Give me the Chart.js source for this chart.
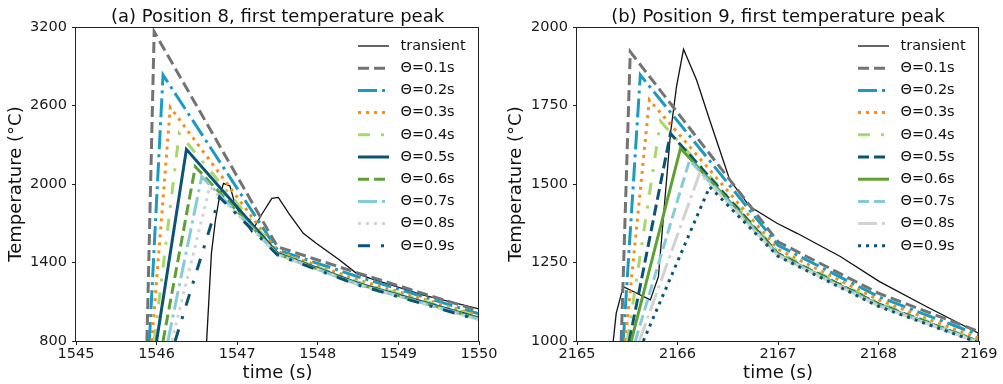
<!DOCTYPE html>
<html>
<head>
<meta charset="utf-8">
<script src="https://cdn.jsdelivr.net/npm/chart.js@4.4.0/dist/chart.umd.min.js"></script>
<style>
  body { margin: 0; background: #fff; }
  canvas { position: absolute; top: 0; }
  #chartA { left: 0; }
  #chartB { left: 500px; }
</style>
</head>
<body>
<canvas id="chartA" width="500" height="384"></canvas>
<canvas id="chartB" width="503" height="384"></canvas>
<script>
// ---- data ----
const thetaLabels = ['Θ=0.1s', 'Θ=0.2s', 'Θ=0.3s', 'Θ=0.4s', 'Θ=0.5s', 'Θ=0.6s', 'Θ=0.7s', 'Θ=0.8s', 'Θ=0.9s'];

// (a) Position 8
const posA_xTicks = [1545, 1546, 1547, 1548, 1549, 1550];
const posA_yTicks = [800, 1400, 2000, 2600, 3200];
const posA_transTime = [1546.62, 1546.68, 1546.73, 1546.78, 1546.83, 1546.91, 1546.98, 1547.14, 1547.18, 1547.30, 1547.43, 1547.51, 1547.64, 1547.82, 1547.98, 1548.27, 1548.48, 1548.65, 1549.31, 1550.0];
const posA_transTemp = [790, 1470, 1725, 1900, 2005, 1985, 1830, 1673, 1635, 1763, 1890, 1898, 1776, 1623, 1547, 1419, 1317, 1279, 1151, 1045];
const posA_startTime = [1545.88, 1545.91, 1545.94, 1545.97, 1546.00, 1546.08, 1546.14, 1546.19, 1546.23];
const posA_startTemp = [800, 800, 800, 800, 800, 800, 800, 800, 800];
const posA_peakTime = [1545.97, 1546.08, 1546.17, 1546.28, 1546.37, 1546.48, 1546.56, 1546.66, 1546.78];
const posA_peakTemp = [3164, 2833, 2586, 2387, 2265, 2132, 2056, 1979, 1900];
const posA_knotTime = 1547.5;
const posA_knotTemp = [1520, 1495, 1485, 1478, 1470, 1465, 1462, 1460, 1458];
const posA_midTime = 1548.5;
const posA_midTemp = [1319, 1291, 1266, 1250, 1240, 1235, 1232, 1230, 1228];
const posA_endTime = 1550;
const posA_endTemp = [1030, 1008, 995, 985, 975, 970, 965, 962, 960];

// (b) Position 9
const posB_xTicks = [2165, 2166, 2167, 2168, 2169];
const posB_yTicks = [1000, 1250, 1500, 1750, 2000];
const posB_transTime = [2165.36, 2165.39, 2165.46, 2165.73, 2165.81, 2165.93, 2165.99, 2166.06, 2166.19, 2166.32, 2166.52, 2166.72, 2166.99, 2167.19, 2167.62, 2168.01, 2168.48, 2169.0];
const posB_transTemp = [998, 1088, 1173, 1131, 1205, 1661, 1810, 1929, 1831, 1704, 1513, 1428, 1375, 1343, 1269, 1189, 1109, 1024];
const posB_startTime = [2165.44, 2165.46, 2165.48, 2165.50, 2165.52, 2165.54, 2165.58, 2165.62, 2165.66];
const posB_startTemp = [1000, 1000, 1000, 1000, 1000, 1000, 1000, 1000, 1000];
const posB_peakTime = [2165.53, 2165.63, 2165.72, 2165.83, 2165.93, 2166.03, 2166.12, 2166.22, 2166.32];
const posB_peakTemp = [1921, 1847, 1768, 1700, 1661, 1614, 1576, 1534, 1491];
const posB_knotTime = 2167;
const posB_knotTemp = [1316, 1305, 1292, 1283, 1278, 1276, 1274, 1272, 1270];
const posB_midTime = 2168;
const posB_midTemp = [1152, 1141, 1131, 1122, 1118, 1116, 1114, 1112, 1110];
const posB_endTime = 2169;
const posB_endTemp = [1030, 1019, 1008, 1000, 998, 997, 996, 995, 994];

// ---- styles ----
const GRAY = '#737373', BLUE = '#1a9bc6', ORANGE = '#f39019', LGREEN = '#a6d96a',
      TEAL = '#0b5475', GREEN = '#5ca132', LBLUE = '#86cbdc', LGRAY = '#d2d2d2';
const DASH = [11, 5], DASHDOT = [19, 5, 3, 5], DOT = [3, 5], LOOSE = [12, 11, 3, 11];

const stylesA = [
  [GRAY, DASH], [BLUE, DASHDOT], [ORANGE, DOT], [LGREEN, LOOSE], [TEAL, []],
  [GREEN, DASH], [LBLUE, DASHDOT], [LGRAY, DOT], [TEAL, LOOSE]
];
const stylesB = [
  [GRAY, DASH], [BLUE, DASHDOT], [ORANGE, DOT], [LGREEN, LOOSE], [TEAL, DASH],
  [GREEN, []], [LBLUE, DASH], [LGRAY, DASHDOT], [TEAL, DOT]
];

Chart.defaults.font.family = '"DejaVu Sans", sans-serif';
Chart.defaults.color = '#1a1a1a';

function buildDatasets(p, styles) {
  const sets = [{
    label: 'transient',
    data: p.transTime.map((t, i) => ({x: t, y: p.transTemp[i]})),
    borderColor: '#111',
    borderWidth: 1.3,
    borderDash: [],
    order: 20
  }];
  thetaLabels.forEach((lab, i) => {
    sets.push({
      label: lab,
      data: [
        {x: p.startTime[i], y: p.startTemp[i]},
        {x: p.peakTime[i], y: p.peakTemp[i]},
        {x: p.knotTime, y: p.knotTemp[i]},
        {x: p.midTime, y: p.midTemp[i]},
        {x: p.endTime, y: p.endTemp[i]}
      ],
      borderColor: styles[i][0],
      borderDash: styles[i][1],
      borderWidth: 3,
      order: 10 - i
    });
  });
  sets.forEach(s => {
    s.pointRadius = 0;
    s.tension = 0;
    s.fill = false;
    s.borderCapStyle = 'butt';
  });
  return sets;
}

// legend drawn inside the plot, top right, no frame
const insideLegend = {
  id: 'insideLegend',
  afterDraw(chart) {
    const {ctx, chartArea} = chart;
    const x0 = chartArea.right - 121;
    ctx.save();
    chart.data.datasets.forEach((ds, i) => {
      const y = chartArea.top + 19 + i * 22.2;
      ctx.beginPath();
      ctx.setLineDash(ds.borderDash || []);
      ctx.lineWidth = ds.borderWidth;
      ctx.strokeStyle = ds.borderColor;
      ctx.lineCap = 'butt';
      ctx.moveTo(x0, y);
      ctx.lineTo(x0 + 31, y);
      ctx.stroke();
      ctx.setLineDash([]);
      ctx.fillStyle = '#111';
      ctx.font = '14.5px "DejaVu Sans"';
      ctx.textBaseline = 'middle';
      ctx.textAlign = 'left';
      ctx.fillText(ds.label, x0 + 42.5, y);
    });
    ctx.restore();
  }
};

// box around the plot area
const frame = {
  id: 'frame',
  afterDatasetsDraw(chart) {
    const {ctx, chartArea: a} = chart;
    ctx.save();
    ctx.strokeStyle = '#222';
    ctx.lineWidth = 1;
    ctx.strokeRect(Math.round(a.left) - 0.5, Math.round(a.top) + 0.5, Math.round(a.right - a.left), Math.round(a.bottom - a.top));
    ctx.restore();
  }
};

function makeChart(id, title, p, styles, xMin, xMax, yMin, yMax, padRight, yWidth) {
  const ctx = document.getElementById(id).getContext('2d');
  return new Chart(ctx, {
    type: 'line',
    data: {datasets: buildDatasets(p, styles)},
    options: {
      responsive: false,
      animation: false,
      layout: {padding: {left: 0, right: padRight, top: 0, bottom: 0}},
      plugins: {
        legend: {display: false},
        tooltip: {enabled: false},
        title: {
          display: true,
          text: title,
          fullSize: false,
          color: '#111',
          font: {size: 18, weight: 'normal', lineHeight: 1.1},
          padding: {top: 7, bottom: 0.2}
        }
      },
      scales: {
        x: {
          type: 'linear',
          min: xMin,
          max: xMax,
          afterBuildTicks: s => { s.ticks = p.xTicks.map(v => ({value: v})); },
          afterFit: s => { s.height = 43; },
          ticks: {font: {size: 14.5}, padding: 1, maxRotation: 0, callback: v => String(v)},
          grid: {drawOnChartArea: false, drawTicks: true, tickLength: 4, color: '#222'},
          border: {display: false},
          title: {display: true, text: 'time (s)', font: {size: 18}, color: '#111', padding: {top: 0, bottom: 0}}
        },
        y: {
          min: yMin,
          max: yMax,
          afterBuildTicks: s => { s.ticks = p.yTicks.map(v => ({value: v})); },
          afterFit: s => { s.width = yWidth; },
          ticks: {font: {size: 14.5}, padding: 5, callback: v => String(v)},
          grid: {drawOnChartArea: false, drawTicks: true, tickLength: 4, color: '#222'},
          border: {display: false},
          title: {display: true, text: 'Temperature (°C)', font: {size: 18}, color: '#111', padding: {top: 6, bottom: 0}}
        }
      }
    },
    plugins: [frame, insideLegend]
  });
}

const panelA = {
  xTicks: posA_xTicks, yTicks: posA_yTicks,
  transTime: posA_transTime, transTemp: posA_transTemp,
  startTime: posA_startTime, startTemp: posA_startTemp,
  peakTime: posA_peakTime, peakTemp: posA_peakTemp,
  knotTime: posA_knotTime, knotTemp: posA_knotTemp,
  midTime: posA_midTime, midTemp: posA_midTemp,
  endTime: posA_endTime, endTemp: posA_endTemp
};
const panelB = {
  xTicks: posB_xTicks, yTicks: posB_yTicks,
  transTime: posB_transTime, transTemp: posB_transTemp,
  startTime: posB_startTime, startTemp: posB_startTemp,
  peakTime: posB_peakTime, peakTemp: posB_peakTemp,
  knotTime: posB_knotTime, knotTemp: posB_knotTemp,
  midTime: posB_midTime, midTemp: posB_midTemp,
  endTime: posB_endTime, endTemp: posB_endTemp
};

makeChart('chartA', '(a) Position 8, first temperature peak', panelA, stylesA, 1545, 1550, 800, 3200, 21, 76);
makeChart('chartB', '(b) Position 9, first temperature peak', panelB, stylesB, 2165, 2169, 1000, 2000, 24, 77);
</script>
</body>
</html>
